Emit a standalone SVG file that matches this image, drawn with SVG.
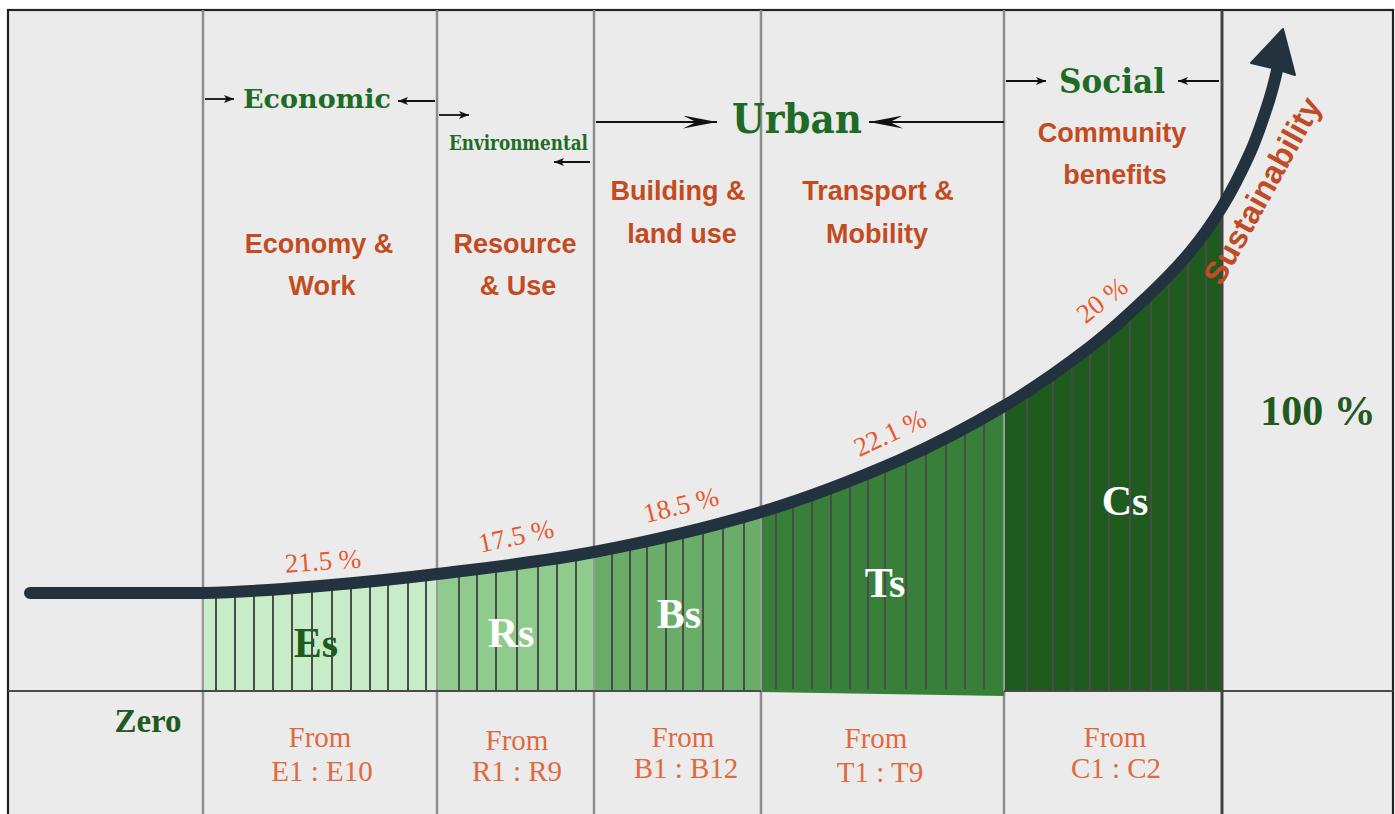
<svg xmlns="http://www.w3.org/2000/svg" width="1395" height="814" viewBox="0 0 1395 814">
  <style>
    .sep { stroke: #8d8d8d; stroke-width: 2.5; }
    .stripe { stroke: #4b4b4b; stroke-width: 2; }
    .slab { font-family: "DejaVu Serif", "Liberation Serif", serif; font-weight: bold; fill: #1e6b26; }
    .cat { font-family: "Liberation Sans", Arial, sans-serif; font-weight: bold; font-size: 27px; fill: #c24b22; text-anchor: middle; }
    .pct { font-family: "Liberation Serif", "Times New Roman", serif; font-size: 27px; fill: #e8582f; text-anchor: middle; }
    .seg { font-family: "Liberation Serif", "Times New Roman", serif; font-weight: bold; font-size: 42px; fill: #ffffff; text-anchor: middle; }
    .from { font-family: "Liberation Serif", "Times New Roman", serif; font-size: 29px; fill: #df6a40; text-anchor: middle; }
    .arr { stroke: #111; stroke-width: 1.8; fill: none; }
  </style>
  <defs>
    <marker id="head" viewBox="0 0 10 8" refX="10" refY="4" markerWidth="10" markerHeight="8" markerUnits="userSpaceOnUse" orient="auto">
      <path d="M0,0 L10,4 L0,8 L2.5,4 Z" fill="#111"/>
    </marker>
    <marker id="headL" viewBox="0 0 34 13" refX="34" refY="6.5" markerWidth="34" markerHeight="13" markerUnits="userSpaceOnUse" orient="auto">
      <path d="M0,0 L34,6.5 L0,13 L13,6.5 Z" fill="#111"/>
    </marker>
    <path id="curvePath" d="M30,593 C58.8,593 154.7,593 203,593 C251.3,591.8 281,589.2 320,586 C359,582.8 391.3,579.7 437,574 C482.7,568.3 540,562.3 594,552 C648,541.7 710,527.3 761,512 C812,496.7 859.5,477.7 900,460 C940.5,442.3 972.3,424.8 1004,406 C1035.7,387.2 1065.7,365.7 1090,347 C1114.3,328.3 1133.3,309.8 1150,294 C1166.7,278.2 1178,266.5 1190,252 C1202,237.5 1212,223.5 1222,207 C1232,190.5 1242.7,169.2 1250,153 C1257.3,136.8 1261.7,122.5 1266,110 C1270.3,97.5 1275,80 1278,66"/>
    <clipPath id="under">
      <path d="M30,593 C58.8,593 154.7,593 203,593 C251.3,591.8 281,589.2 320,586 C359,582.8 391.3,579.7 437,574 C482.7,568.3 540,562.3 594,552 C648,541.7 710,527.3 761,512 C812,496.7 859.5,477.7 900,460 C940.5,442.3 972.3,424.8 1004,406 C1035.7,387.2 1065.7,365.7 1090,347 C1114.3,328.3 1133.3,309.8 1150,294 C1166.7,278.2 1178,266.5 1190,252 C1202,237.5 1212,223.5 1222,207 C1232,190.5 1242.7,169.2 1250,153 C1257.3,136.8 1261.7,122.5 1266,110 C1270.3,97.5 1275,80 1278,66 L1278,700 L30,700 Z"/>
    </clipPath>
  </defs>

  <!-- page and frame -->
  <rect x="0" y="0" width="1395" height="814" fill="#ffffff"/>
  <g id="frame">
    <rect x="8" y="10" width="1385" height="812" fill="#ecebeb" stroke="#222" stroke-width="2.2"/>
  </g>

  <!-- column separators -->
  <g id="separators">
    <line class="sep" x1="203" y1="10" x2="203" y2="814"/>
    <line class="sep" x1="437" y1="10" x2="437" y2="814"/>
    <line class="sep" x1="594" y1="10" x2="594" y2="814"/>
    <line class="sep" x1="761" y1="10" x2="761" y2="814"/>
    <line class="sep" x1="1004" y1="10" x2="1004" y2="814"/>
  </g>

  <!-- striped areas under the curve -->
  <g id="fills" clip-path="url(#under)">
    <rect x="203" y="0" width="234" height="691" fill="#c9ecc8"/>
    <rect x="437" y="0" width="157" height="691" fill="#8fcb8c"/>
    <rect x="594" y="0" width="167" height="691" fill="#69ad68"/>
    <polygon points="761,0 1004,0 1004,696 761,692" fill="#387f3a"/>
    <rect x="1004" y="0" width="218" height="691" fill="#1f5b1f"/>
    <g class="stripe">
      <line x1="216" y1="0" x2="216" y2="691"/><line x1="235" y1="0" x2="235" y2="691"/>
      <line x1="254" y1="0" x2="254" y2="691"/><line x1="273" y1="0" x2="273" y2="691"/>
      <line x1="292" y1="0" x2="292" y2="691"/><line x1="312" y1="0" x2="312" y2="691"/>
      <line x1="332" y1="0" x2="332" y2="691"/><line x1="351" y1="0" x2="351" y2="691"/>
      <line x1="370" y1="0" x2="370" y2="691"/><line x1="388" y1="0" x2="388" y2="691"/>
      <line x1="408" y1="0" x2="408" y2="691"/><line x1="426" y1="0" x2="426" y2="691"/>
      <line x1="459" y1="0" x2="459" y2="691"/><line x1="477" y1="0" x2="477" y2="691"/>
      <line x1="496" y1="0" x2="496" y2="691"/><line x1="517" y1="0" x2="517" y2="691"/>
      <line x1="538" y1="0" x2="538" y2="691"/><line x1="557" y1="0" x2="557" y2="691"/>
      <line x1="576" y1="0" x2="576" y2="691"/>
      <line x1="612" y1="0" x2="612" y2="691"/><line x1="630" y1="0" x2="630" y2="691"/>
      <line x1="647" y1="0" x2="647" y2="691"/><line x1="666" y1="0" x2="666" y2="691"/>
      <line x1="683" y1="0" x2="683" y2="691"/><line x1="703" y1="0" x2="703" y2="691"/>
      <line x1="723" y1="0" x2="723" y2="691"/><line x1="744" y1="0" x2="744" y2="691"/>
      <line x1="776" y1="0" x2="776" y2="689"/><line x1="793" y1="0" x2="793" y2="689"/>
      <line x1="812" y1="0" x2="812" y2="689"/><line x1="831" y1="0" x2="831" y2="689"/>
      <line x1="850" y1="0" x2="850" y2="689"/><line x1="868" y1="0" x2="868" y2="689"/>
      <line x1="885" y1="0" x2="885" y2="689"/><line x1="906" y1="0" x2="906" y2="689"/>
      <line x1="926" y1="0" x2="926" y2="689"/><line x1="946" y1="0" x2="946" y2="689"/>
      <line x1="965" y1="0" x2="965" y2="689"/><line x1="984" y1="0" x2="984" y2="689"/>
      <line x1="1027" y1="0" x2="1027" y2="691"/><line x1="1053" y1="0" x2="1053" y2="691"/>
      <line x1="1072" y1="0" x2="1072" y2="691"/><line x1="1090" y1="0" x2="1090" y2="691"/>
      <line x1="1109" y1="0" x2="1109" y2="691"/><line x1="1130" y1="0" x2="1130" y2="691"/>
      <line x1="1151" y1="0" x2="1151" y2="691"/><line x1="1169" y1="0" x2="1169" y2="691"/>
      <line x1="1188" y1="0" x2="1188" y2="691"/><line x1="1206" y1="0" x2="1206" y2="691"/>
    </g>
    <g stroke="#9a9a9a" stroke-width="2">
      <line x1="203" y1="0" x2="203" y2="691"/>
      <line x1="437" y1="0" x2="437" y2="691"/>
      <line x1="594" y1="0" x2="594" y2="691"/>
      <line x1="761" y1="0" x2="761" y2="691"/>
      <line x1="1004" y1="0" x2="1004" y2="691"/>
    </g>
  </g>

  <!-- baseline and the right-hand boundary -->
  <g id="axes">
    <line x1="8" y1="691" x2="761" y2="691" stroke="#4a4a4a" stroke-width="2.2"/>
    <line x1="1004" y1="691" x2="1393" y2="691" stroke="#4a4a4a" stroke-width="2.2"/>
    <line x1="1222" y1="10" x2="1222" y2="814" stroke="#444" stroke-width="3"/>
  </g>

  <!-- sustainability curve -->
  <g id="curve">
    <use href="#curvePath" fill="none" stroke="#22333f" stroke-width="12" stroke-linecap="round"/>
    <polygon points="1283,29 1295,75 1276,69 1251,63" fill="#22333f" stroke="#22333f" stroke-width="2" stroke-linejoin="round"/>
  </g>

  <!-- pointer arrows between headings -->
  <g id="connectors">
    <line class="arr" x1="205" y1="99" x2="234" y2="99" marker-end="url(#head)"/>
    <line class="arr" x1="435" y1="101" x2="398" y2="101" marker-end="url(#head)"/>
    <line class="arr" x1="439" y1="115" x2="469" y2="115" marker-end="url(#head)"/>
    <line class="arr" x1="590" y1="162" x2="554" y2="162" marker-end="url(#head)"/>
    <line class="arr" x1="596" y1="122" x2="717" y2="122" marker-end="url(#headL)"/>
    <line class="arr" x1="1004" y1="122" x2="869" y2="122" marker-end="url(#headL)"/>
    <line class="arr" x1="1006" y1="81" x2="1046" y2="81" marker-end="url(#head)"/>
    <line class="arr" x1="1219" y1="81" x2="1178" y2="81" marker-end="url(#head)"/>
  </g>

  <!-- headings -->
  <g id="node-economic"><text class="slab" x="243" y="108" font-size="26" textLength="148" lengthAdjust="spacingAndGlyphs">Economic</text></g>
  <g id="node-environmental"><text class="slab" x="449" y="150" font-size="21" textLength="139" lengthAdjust="spacingAndGlyphs">Environmental</text></g>
  <g id="node-urban"><text class="slab" x="732" y="133" font-size="41" textLength="130" lengthAdjust="spacingAndGlyphs">Urban</text></g>
  <g id="node-social"><text class="slab" x="1059" y="93" font-size="34" textLength="106" lengthAdjust="spacingAndGlyphs">Social</text></g>

  <!-- category captions -->
  <g id="node-economy">
    <text class="cat" x="319" y="253">Economy &amp;</text>
    <text class="cat" x="322" y="295">Work</text>
  </g>
  <g id="node-resource">
    <text class="cat" x="515" y="253">Resource</text>
    <text class="cat" x="518" y="295">&amp; Use</text>
  </g>
  <g id="node-building">
    <text class="cat" x="678" y="200">Building &amp;</text>
    <text class="cat" x="682" y="243">land use</text>
  </g>
  <g id="node-transport">
    <text class="cat" x="878" y="200">Transport &amp;</text>
    <text class="cat" x="877" y="243">Mobility</text>
  </g>
  <g id="node-community">
    <text class="cat" x="1112" y="142">Community</text>
    <text class="cat" x="1115" y="184">benefits</text>
  </g>

  <!-- shares along the curve -->
  <g id="shares">
    <text class="pct" transform="translate(323,561) rotate(-4)" x="0" y="9">21.5 %</text>
    <text class="pct" transform="translate(516,536) rotate(-12)" x="0" y="9">17.5 %</text>
    <text class="pct" transform="translate(681,505) rotate(-14)" x="0" y="9">18.5 %</text>
    <text class="pct" transform="translate(890,433) rotate(-25)" x="0" y="9">22.1 %</text>
    <text class="pct" transform="translate(1102,300) rotate(-38)" x="0" y="9">20 %</text>
  </g>

  <!-- segment symbols -->
  <g id="segments">
    <text class="seg" x="316" y="657" style="fill:#1f5a1f">Es</text>
    <text class="seg" x="511" y="647">Rs</text>
    <text class="seg" x="679" y="628">Bs</text>
    <text class="seg" x="885" y="597">Ts</text>
    <text class="seg" x="1125" y="515">Cs</text>
  </g>

  <g id="node-sustainability">
    <text transform="translate(1272,196) rotate(-61)" x="0" y="0" text-anchor="middle" font-family="'Liberation Sans', Arial, sans-serif" font-weight="bold" font-size="32" fill="#bf4c24">Sustainability</text>
  </g>

  <g id="node-scale">
    <text x="1318" y="425" text-anchor="middle" font-family="'Liberation Serif', 'Times New Roman', serif" font-weight="bold" font-size="42" fill="#1f5a1f">100 %</text>
    <text x="148" y="732" text-anchor="middle" font-family="'Liberation Serif', 'Times New Roman', serif" font-weight="bold" font-size="33" fill="#1f5a1f">Zero</text>
  </g>

  <!-- indicator ranges -->
  <g id="ranges">
    <text class="from" x="320" y="747">From</text>
    <text class="from" x="322" y="781">E1 : E10</text>
    <text class="from" x="517" y="750">From</text>
    <text class="from" x="517" y="781">R1 : R9</text>
    <text class="from" x="683" y="747">From</text>
    <text class="from" x="686" y="778">B1 : B12</text>
    <text class="from" x="876" y="748">From</text>
    <text class="from" x="880" y="782">T1 : T9</text>
    <text class="from" x="1115" y="747">From</text>
    <text class="from" x="1116" y="778">C1 : C2</text>
  </g>
</svg>
